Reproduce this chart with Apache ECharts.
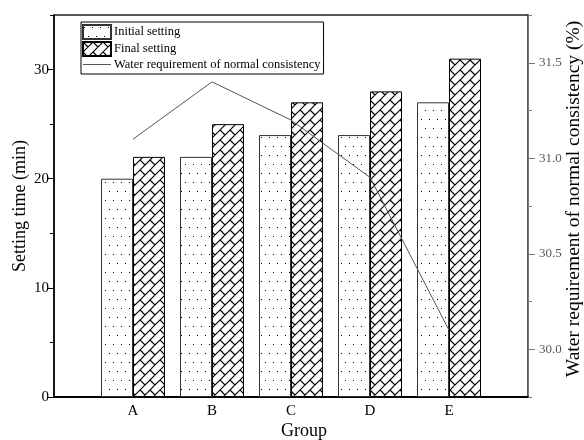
<!DOCTYPE html>
<html><head><meta charset="utf-8">
<script src="https://cdn.jsdelivr.net/npm/echarts@6/dist/echarts.min.js"></script>
<style>html,body{margin:0;padding:0;background:#fff}#c{width:584px;height:440px}</style>
</head><body><div id="c"></div>
<script>
const categories = ['A', 'B', 'C', 'D', 'E'];
const initialSetting = [20, 22, 24, 24, 27];
const finalSetting = [22, 25, 27, 28, 31];
const waterRequirement = [31.1, 31.4, 31.2, 30.9, 30.1];
const leftTicks = [0, 10, 20, 30];
const rightTicks = [30.0, 30.5, 31.0, 31.5];

const FONT = '"Liberation Serif", "Times New Roman", serif';

function dotPattern() {
  const c = document.createElement('canvas');
  c.width = 8; c.height = 18;
  const g = c.getContext('2d');
  g.fillStyle = '#fff'; g.fillRect(0, 0, 8, 18);
  g.fillStyle = '#000';
  g.fillRect(1, 2, 1, 1);
  g.fillRect(5, 11, 1, 1);
  return c;
}
function brickPattern() {
  const c = document.createElement('canvas');
  c.width = 20; c.height = 20;
  const g = c.getContext('2d');
  g.fillStyle = '#fff'; g.fillRect(0, 0, 20, 20);
  g.strokeStyle = '#000'; g.lineWidth = 1.2;
  g.beginPath();
  for (let s = -40; s <= 80; s += 10) { g.moveTo(s + 40, -40); g.lineTo(s - 40, 40); }
  for (let k = -6; k <= 10; k++) {
    const s1 = 10 * k, s2 = s1 + 10;
    const off = (((k % 2) + 2) % 2) * 10;
    for (let m = -4; m <= 4; m++) {
      const cc = 20 * m + off;
      g.moveTo((s1 + cc) / 2, (s1 - cc) / 2);
      g.lineTo((s2 + cc) / 2, (s2 - cc) / 2);
    }
  }
  g.stroke();
  return c;
}

const axisCats = [''].concat(categories, ['']);
const pad = arr => [null].concat(arr, [null]);

const chart = echarts.init(document.getElementById('c'), null, { renderer: 'canvas' });
chart.setOption({
  animation: false,
  backgroundColor: '#fff',
  textStyle: { fontFamily: FONT },
  grid: { left: 54, right: 56, top: 15, bottom: 43, outerBoundsMode: 'none', containLabel: false,
    show: true, borderColor: '#222', borderWidth: 1.5, backgroundColor: 'transparent' },
  legend: {
    left: 81, top: 22, orient: 'vertical',
    itemWidth: 28, itemHeight: 14, itemGap: 1,
    borderColor: '#000', borderWidth: 1, padding: [2, 3, 3, 1],
    textStyle: { fontFamily: FONT, fontSize: 12.5, color: '#000', padding: [0, 0, 0, -2] },
    data: [
      { name: 'Initial setting', icon: 'rect' },
      { name: 'Final setting', icon: 'rect' },
      { name: 'Water requirement of normal consistency', icon: 'path://M0,0H28V1H0Z' }
    ]
  },
  xAxis: {
    type: 'category', data: axisCats, boundaryGap: false,
    axisLine: { lineStyle: { color: '#000', width: 2 } },
    axisTick: { show: false },
    axisLabel: { fontFamily: FONT, fontSize: 15, color: '#000', margin: 7 },
    splitLine: { show: false },
    name: 'Group', nameLocation: 'middle', nameGap: 25, nameMoveOverlap: false,
    nameTextStyle: { fontFamily: FONT, fontSize: 18, color: '#000', padding: [0, 0, 0, 26] }
  },
  yAxis: [
    {
      type: 'value', position: 'left', min: 0, max: 35, interval: 5,
      axisLine: { show: true, lineStyle: { color: '#000', width: 1.5 } },
      axisTick: { show: true, length: 7, customValues: leftTicks, lineStyle: { color: '#000' } },
      axisLabel: { customValues: leftTicks, fontFamily: FONT, fontSize: 15, color: '#000', margin: 5 },
      splitLine: { show: false },
      name: 'Setting time (min)', nameLocation: 'middle', nameGap: 25, nameRotate: 90, nameMoveOverlap: false,
      nameTextStyle: { fontFamily: FONT, fontSize: 18, color: '#000' }
    },
    {
      type: 'value', position: 'right', min: 29.75, max: 31.75, interval: 0.25,
      axisLine: { show: true, lineStyle: { color: '#777', width: 1 } },
      axisTick: { show: true, length: 7, customValues: rightTicks, lineStyle: { color: '#777' } },
      axisLabel: { customValues: rightTicks, fontFamily: FONT, fontSize: 13, color: '#555', margin: 11,
        formatter: v => Number(v).toFixed(1) },
      splitLine: { show: false },
      name: 'Water requirement of normal consistency (%)', nameLocation: 'middle', nameGap: 36, nameRotate: 90,
      nameMoveOverlap: false,
      nameTextStyle: { fontFamily: FONT, fontSize: 19.5, color: '#000', padding: [0, 0, 0, 14] }
    },
    {
      type: 'value', position: 'left', min: 0, max: 35, interval: 5,
      axisLine: { show: false }, axisLabel: { show: false }, splitLine: { show: false },
      axisTick: { show: true, length: 4, lineStyle: { color: '#000' } }
    },
    {
      type: 'value', position: 'right', min: 29.75, max: 31.75, interval: 0.25,
      axisLine: { show: false }, axisLabel: { show: false }, splitLine: { show: false },
      axisTick: { show: true, length: 4, lineStyle: { color: '#777' } }
    }
  ],
  series: [
    {
      name: 'Initial setting', type: 'bar', yAxisIndex: 0, data: pad(initialSetting),
      barWidth: 32, barGap: '0%',
      itemStyle: { color: { image: dotPattern(), repeat: 'repeat' }, borderColor: '#333', borderWidth: 1 }
    },
    {
      name: 'Final setting', type: 'bar', yAxisIndex: 0, data: pad(finalSetting),
      barWidth: 32, barGap: '0%',
      itemStyle: { color: { image: brickPattern(), repeat: 'repeat' }, borderColor: '#000', borderWidth: 1 }
    },
    {
      name: 'Water requirement of normal consistency', type: 'line', yAxisIndex: 1,
      data: pad(waterRequirement), symbol: 'none', z: 5,
      lineStyle: { color: '#555', width: 1 }, itemStyle: { color: '#555' }
    }
  ]
});
</script>
</body></html>
